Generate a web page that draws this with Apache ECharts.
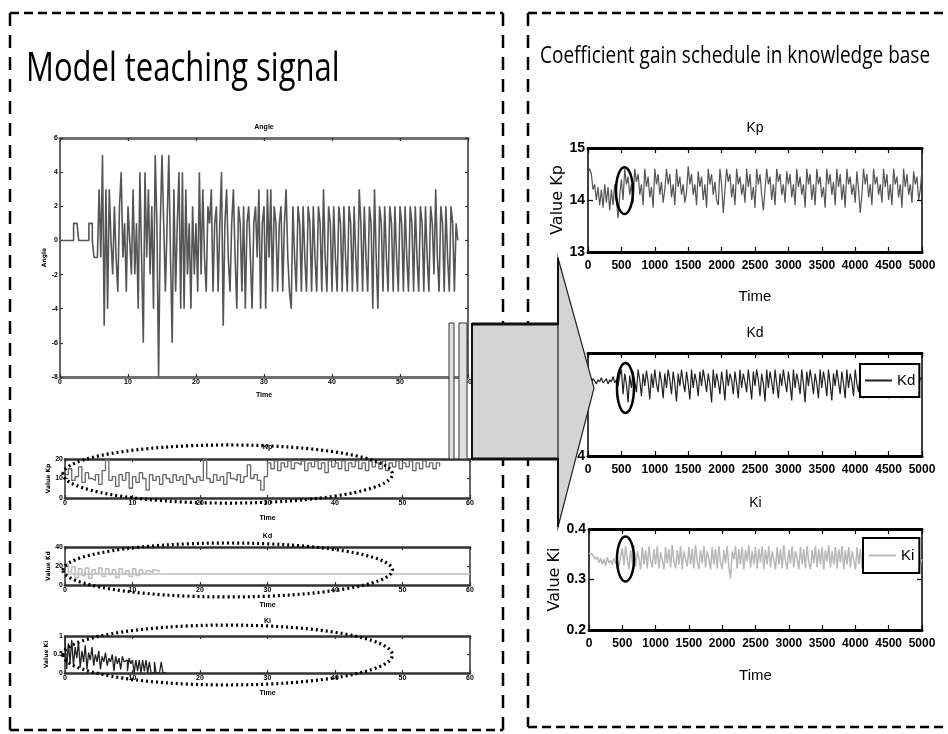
<!DOCTYPE html>
<html><head><meta charset="utf-8">
<script src="https://cdn.jsdelivr.net/npm/echarts@6/dist/echarts.min.js"></script>
<style>html,body{margin:0;padding:0;background:#fff}#c{width:948px;height:734px}</style>
</head><body><div id="c"></div>
<script>
// ---------- DATA ----------
const ANGLE_DT = 0.25; // s per sample
const angleValues = [
 0,0,0,0,0,0,0,0, 1,1,1, 0,0,0,0,0,0, 1,1, 0, -1,-1,-1,
 3,-1,5,-5,3,-4,3,0,-2,2,-1,-3,2,4,-1,1,-3,2,0,-2,3,-2,1,-4,4,-1,-6,4,-1,3,-2,2,-4,5,1,-8,1,5,1,-3,1,5,-1,-6,3,-3,1,4,-4,4,-4,3,-2,1,-4,2,-2,
 1,-3,4,-2,3,-1,-3,2,1,3,-3,1,2,-3,1,4,-5,1,3,-1,-3,1,3,-1,-4,2,1,-3,2,-4,1,2,-1,-4,1,2,-1,3,-4,1,2,-4,3,-1,3,-3,2,1,-3,1,2,-3,1,3,-1,-3,-4,2,-1,-3,
 2,1,-3,2,-1,-3,2,1,-3,2,-1,-3,2,1,-3,3,-1,-3,2,1,-3,2,-1,-3,2,1,-3,2,-1,-3,2,1,-3,2,-1,-3,3,1,-3,2,-1,-3,2,1,-4,3,-1,-4,
 2,1,-3,2,-1,-3,2,1,-3,2,-1,-3,2,1,-3,2,-1,-3,2,1,-3,2,-1,-3,2,1,-3,2,-1,-3,2,1,-2,3,-1,-3,2,1,-3,2,-1,-3,2,1,-3,1,0
];
const TEACH_KP_DT = 0.5;
const teachKp = [
 12,15,9,11,16,8,13,10,9,12, 7,14,20,9,11,6,12,9,13,5,
 11,8,13,10,4,12,9,11,7,12, 10,8,12,9,11,7,12,10,8,11,
 9,20,10,8,12,9,11,7,13,10, 9,12,8,11,17,10,12,9,4,11,
 18,15,19,14,18,16,19,15,18,17, 19,14,18,16,19,15,18,13,19,16,
 18,15,19,14,18,16,19,15,18,14, 19,16,18,15,19,14,18,16,19,15,
 18,16,19,14,18,15,19,16,18,15, 18,16
];
const TEACH_KD_DT = 0.5;
const teachKd = [22,14,19,8,17,10,18,7,16,12,18,9,17,11,16,8,17,12,15,9,17,10,16,12,15,13,16,14,15];
const teachKdRef = 12;
const TEACH_KI_DT = 0.25;
const teachKi = [
 0.95,0.1,0.8,0.3,0.9,0.2,0.7,0.4,0.85,0.15,
 0.6,0.3,0.75,0.1,0.55,0.35,0.7,0.2,0.5,0.3,
 0.6,0.1,0.45,0.3,0.55,0.2,0.4,0.3,0.5,0.05,
 0.45,0.25,0.4,0.1,0.45,0.3,0.35,0.05,0.4,0.25,
 0.35,0.0,0.35,0.05,0.35,0.0,0.35,0.05,0.35,0.0,
 0.3,0.0,0.0,0.3,0.0,0.0,0.0,0.3,0.0,0.0, 0
];
const GAIN_DT = 25;
const gainKp = [
 14.55,14.6,14.5,14.2,14.3,14.0,14.25,13.9,14.2,13.85,14.3,13.95,14.25,13.8,14.2,13.9,14.3,14.0,13.65,14.1,
 14.4,14.0,14.6,14.3,14.45,14.1,14.3,13.95,14.6,14.35,14.5,14.1,14.3,13.9,14.6,14.25,14.45,14.05,14.25,13.85,
 14.6,14.3,14.5,14.1,14.35,13.95,14.2,14.6,14.3,14.5,14.05,14.3,13.9,14.6,14.25,14.45,14.1,14.3,13.95,14.15,
 14.65,14.3,14.5,14.1,14.3,13.9,14.55,14.25,14.45,14.0,14.3,13.85,14.6,14.3,14.5,14.1,14.35,14.0,13.9,14.6,
 14.3,13.75,14.2,14.6,14.35,14.5,14.05,14.3,13.9,14.6,14.3,14.45,14.1,14.3,13.95,14.6,14.25,14.5,14.0,14.25,
 13.85,14.6,14.3,14.5,14.1,13.8,14.2,14.6,14.3,14.45,14.0,14.3,13.9,14.6,14.35,14.5,14.1,14.3,13.95,14.55,
 14.3,14.5,14.05,14.3,13.9,14.6,14.25,14.45,14.1,14.3,13.85,14.6,14.3,14.5,14.0,14.3,13.9,14.6,14.3,14.45,
 14.05,14.25,13.85,14.6,14.3,14.5,14.1,14.35,13.9,14.6,14.25,14.5,14.0,14.3,13.85,14.6,14.3,14.45,14.1,14.3,
 13.95,14.55,14.2,13.75,14.1,14.6,14.3,14.5,14.05,14.3,13.9,14.6,14.3,14.45,14.1,14.3,13.95,14.6,14.25,14.5,
 14.0,14.3,13.9,14.6,14.3,14.45,14.05,14.3,13.85,14.6,14.25,14.5,14.1,14.3,13.95,14.55,14.3,14.45,14.0,14.2,
 14.6
];
const gainKd = [
 4.72,4.74,4.71,4.75,4.73,4.70,4.74,4.72,4.76,4.71,4.73,4.75,4.70,4.74,4.72,4.77,4.71,4.74,4.68,4.78,
 4.84,4.60,4.80,4.70,4.52,4.78,4.66,4.82,4.72,4.62,4.84,4.74,4.58,4.80,4.68,4.83,4.72,4.55,4.80,4.66,
 4.84,4.70,4.62,4.82,4.72,4.56,4.80,4.66,4.84,4.74,4.60,4.82,4.70,4.53,4.80,4.68,4.84,4.72,4.62,4.82,
 4.70,4.55,4.84,4.66,4.80,4.72,4.58,4.82,4.68,4.84,4.74,4.62,4.80,4.70,4.52,4.84,4.66,4.80,4.72,4.60,
 4.82,4.70,4.54,4.84,4.68,4.80,4.74,4.60,4.82,4.70,4.56,4.84,4.66,4.80,4.72,4.62,4.84,4.70,4.55,4.82,
 4.68,4.84,4.74,4.58,4.80,4.70,4.53,4.84,4.66,4.82,4.72,4.60,4.84,4.70,4.56,4.80,4.68,4.84,4.72,4.62,
 4.82,4.70,4.54,4.84,4.66,4.80,4.72,4.60,4.84,4.70,4.52,4.82,4.68,4.84,4.74,4.60,4.80,4.70,4.56,4.84,
 4.66,4.82,4.72,4.58,4.84,4.70,4.54,4.80,4.68,4.84,4.72,4.60,4.82,4.70,4.56,4.84,4.66,4.80,4.72,4.58,
 4.84,4.70,4.62,4.82,4.68,4.56,4.84,4.72,4.80,4.64,4.84,4.70,4.58,4.82,4.68,4.84,4.72,4.60,4.82,4.70,
 4.56,4.84,4.66,4.80,4.72,4.60,4.84,4.70,4.56,4.82,4.68,4.84,4.72,4.62,4.82,4.70,4.58,4.84,4.68,4.76,
 4.74
];
const gainKi = [
 0.352,0.355,0.350,0.347,0.340,0.345,0.333,0.342,0.330,0.340,0.327,0.344,0.333,0.338,0.329,0.342,0.331,0.338,0.325,0.346,
 0.362,0.328,0.366,0.340,0.320,0.358,0.334,0.368,0.325,0.356,0.342,0.320,0.364,0.330,0.358,0.322,0.366,0.338,0.324,0.360,
 0.330,0.366,0.322,0.354,0.340,0.320,0.364,0.332,0.360,0.324,0.368,0.336,0.322,0.358,0.330,0.366,0.320,0.356,0.340,0.326,
 0.364,0.330,0.360,0.322,0.368,0.336,0.320,0.358,0.332,0.366,0.324,0.356,0.342,0.320,0.364,0.330,0.360,0.322,0.366,0.334,
 0.320,0.358,0.332,0.366,0.324,0.302,0.356,0.340,0.366,0.322,0.360,0.330,0.364,0.320,0.358,0.336,0.368,0.324,0.356,0.330,
 0.364,0.322,0.360,0.334,0.366,0.320,0.358,0.330,0.366,0.324,0.356,0.340,0.320,0.364,0.330,0.360,0.322,0.368,0.336,0.320,
 0.358,0.332,0.366,0.324,0.356,0.342,0.320,0.364,0.330,0.360,0.322,0.366,0.334,0.320,0.358,0.332,0.366,0.324,0.360,0.330,
 0.364,0.320,0.358,0.336,0.368,0.324,0.356,0.330,0.364,0.322,0.360,0.334,0.366,0.320,0.358,0.330,0.364,0.324,0.356,0.340,
 0.320,0.364,0.330,0.360,0.322,0.366,0.334,0.320,0.358,0.332,0.366,0.324,0.356,0.342,0.320,0.364,0.330,0.360,0.322,0.366,
 0.334,0.320,0.358,0.332,0.366,0.324,0.356,0.340,0.320,0.364,0.330,0.360,0.322,0.366,0.334,0.320,0.358,0.332,0.366,0.330,
 0.340
];

// ---------- LAYOUT ----------
const NARROW = "'Liberation Sans Narrow','Liberation Sans',sans-serif";
const SANS = "'Liberation Sans',sans-serif";
const chart = echarts.init(document.getElementById('c'));
const grids = [
 {left:60, top:138, width:408, height:239},
 {left:65, top:459, width:405, height:39},
 {left:65, top:547, width:405, height:38},
 {left:65, top:636, width:405, height:37},
 {left:588, top:148, width:334, height:104},
 {left:588, top:353, width:334, height:103},
 {left:589, top:529, width:333, height:101}
];
const small = {font:7, weight:'bold', family:SANS, tick:3, margin:2};
const big = {font:12, weight:'bold', family:SANS, tick:5, margin:8};
const cfgs = [
 {x:[0,60,10], y:[-8,6,2], s:small, hx:'#707070', hw:3, vx:'#333', vw:1.5, xName:'Time', xGap:15, yName:'Angle', yGap:13},
 {x:[0,60,10], y:[0,20,10], s:small, hx:'#333', hw:2.5, vx:'#333', vw:1.5, xName:'Time', xGap:17, yName:'Value Kp', yGap:12},
 {x:[0,60,10], y:[0,40,20], s:small, hx:'#333', hw:2.5, vx:'#333', vw:1.5, xName:'Time', xGap:17, yName:'Value Kd', yGap:12},
 {x:[0,60,10], y:[0,1,0.5], s:small, hx:'#333', hw:2.5, vx:'#333', vw:1.5, xName:'Time', xGap:17, yName:'Value Ki', yGap:14},
 {x:[0,5000,500], y:[13,15,1], s:big, hx:'#000', hw:3, vx:'#000', vw:1.5, xName:'Time', xGap:37, yName:'Value Kp', yGap:12},
 {x:[0,5000,500], y:[4,5,1], s:big, hx:'#000', hw:3, vx:'#000', vw:1.5, xName:'', xGap:37, yName:'Value Kd', yGap:12, hideMax:true},
 {x:[0,5000,500], y:[0.2,0.4,0.1], s:big, hx:'#000', hw:3, vx:'#000', vw:1.5, xName:'Time', xGap:38, yName:'Value Ki', yGap:12}
];
const fmt = v => String(+(+v).toFixed(6));
const xAxes = [], yAxes = [];
cfgs.forEach((c, g) => {
  const s = c.s;
  const isBig = s === big;
  const nameStyleX = {fontFamily:SANS, fontSize: isBig ? 15 : 7, fontWeight: isBig ? 'normal' : 'bold', color:'#000'};
  const nameStyleY = {fontFamily:"'DejaVu Sans',sans-serif", fontSize: isBig ? 16 : 6, fontWeight: isBig ? 'normal' : 'bold', color:'#000'};
  ['bottom','top'].forEach((pos, k) => {
    xAxes.push({type:'value', gridIndex:g, position:pos, min:c.x[0], max:c.x[1], interval:c.x[2],
      axisLine:{show:true, onZero:false, lineStyle:{color:c.hx, width:c.hw}},
      axisTick:{show:true, inside:true, length:s.tick, lineStyle:{color:c.vx, width:1.2}},
      axisLabel:{show:k===0, formatter:fmt, fontSize:s.font, fontWeight:s.weight, fontFamily:s.family, color:'#000', margin:s.margin, showMinLabel:true, showMaxLabel:true, hideOverlap:false},
      splitLine:{show:false},
      name: k===0 ? c.xName : '', nameLocation:'middle', nameGap:c.xGap, nameTextStyle:nameStyleX});
  });
  ['left','right'].forEach((pos, k) => {
    yAxes.push({type:'value', gridIndex:g, position:pos, min:c.y[0], max:c.y[1], interval:c.y[2],
      axisLine:{show:true, onZero:false, lineStyle:{color:c.vx, width:c.vw}},
      axisTick:{show:true, inside:true, length:s.tick, lineStyle:{color:c.vx, width:1.2}},
      axisLabel:{show:k===0, formatter:fmt, fontSize: isBig ? 14 : s.font, fontWeight:s.weight, fontFamily:s.family, color:'#000', margin:isBig?3:2, showMinLabel:true, showMaxLabel: c.hideMax ? false : true},
      splitLine:{show:false},
      name: k===0 ? c.yName : '', nameLocation:'middle', nameGap:c.yGap, nameRotate:90, nameTextStyle:nameStyleY});
  });
});

function seriesOf(name, g, values, dt, color, width, step, extra) {
  return Object.assign({
    name, type:'line', xAxisIndex:2*g, yAxisIndex:2*g,
    data: values.map((v, i) => [i * dt, v]),
    showSymbol:false, symbol:'none', step: step || false,
    lineStyle:{color, width}, itemStyle:{color}, animation:false, clip:true
  }, extra || {});
}

const series = [
  seriesOf('Angle', 0, angleValues, ANGLE_DT, '#555', 1.6, 'end'),
  seriesOf('Kp teaching', 1, teachKp, TEACH_KP_DT, '#666', 1.3, 'end'),
  seriesOf('Kd teaching', 2, teachKd, TEACH_KD_DT, '#bdbdbd', 1.5, 'end', {
    markLine:{silent:true, symbol:'none', label:{show:false}, animation:false,
      lineStyle:{color:'#bdbdbd', type:'solid', width:1.5}, data:[{yAxis:teachKdRef}]}}),
  seriesOf('Ki teaching', 3, teachKi, TEACH_KI_DT, '#222', 1.3, 'end'),
  seriesOf('Kp', 4, gainKp, GAIN_DT, '#555', 1.2),
  seriesOf('Kd', 5, gainKd, GAIN_DT, '#222', 1.2),
  seriesOf('Ki', 6, gainKi, GAIN_DT, '#b8b8b8', 1.5)
];

const legendBase = {orient:'horizontal', icon:'rect', itemWidth:27, itemHeight:2, itemGap:0,
  borderColor:'#000', borderWidth:2, backgroundColor:'#fff', borderRadius:0, selectedMode:false,
  textStyle:{fontFamily:SANS, fontSize:15, color:'#000'}};

chart.setOption({
  animation:false,
  backgroundColor:'#fff',
  grid: grids.map(g => Object.assign({containLabel:false}, g)),
  xAxis: xAxes, yAxis: yAxes, series,
  legend:[
    Object.assign({}, legendBase, {data:['Kd'], left:860, top:364, padding:[9,4,9,5]}),
    Object.assign({}, legendBase, {data:['Ki'], left:863, top:538, padding:[10,5,10,6]})
  ]
});

// ---------- ANNOTATIONS ----------
const gr = [];
function dashLine(x1, y1, x2, y2, dash) {
  gr.push({type:'line', shape:{x1, y1, x2, y2}, style:{stroke:'#000', lineWidth:2.5, lineDash:dash}, z:90, silent:true});
}
dashLine(10, 13, 503, 13, [9,5]);
dashLine(10, 13, 10, 730, [13,9]);
dashLine(10, 730, 503, 730, [9,5]);
dashLine(503, 13, 503, 730, [13,9]);
dashLine(528, 13, 948, 13, [9,5]);
dashLine(528, 13, 528, 727, [13,9]);
dashLine(528, 727, 948, 727, [9,5]);

function txt(text, x, y, font, align, extra) {
  gr.push(Object.assign({type:'text', x, y, z:60, silent:true,
    style:{text, font, fill:'#000', align: align || 'center', verticalAlign:'middle'}}, extra || {}));
}
txt('Model teaching signal', 26, 70, "31px 'Open Sans'", 'left', {scaleY:1.3});
txt('Coefficient gain schedule in knowledge base', 540, 57, "19px 'Open Sans'", 'left', {scaleY:1.2});

const titles = [['Angle',0,-11,"bold 7px "+SANS],['Kp',1,-12,"bold 7px "+SANS],['Kd',2,-11,"bold 7px "+SANS],['Ki',3,-15,"bold 7px "+SANS],
  ['Kp',4,-20,"14px "+SANS],['Kd',5,-20,"14px "+SANS],['Ki',6,-26,"14px "+SANS]];
titles.forEach(([t, g, dy, f]) => {
  const G = grids[g];
  txt(t, G.left + G.width/2, G.top + dy, f);
});

function ellipseAt(g, cx, cy, rx, ry, style) {
  const f = {xAxisIndex:2*g, yAxisIndex:2*g};
  const c = chart.convertToPixel(f, [cx, cy]);
  const e = chart.convertToPixel(f, [cx + rx, cy + ry]);
  gr.push({type:'ellipse', shape:{cx:c[0], cy:c[1], rx:Math.abs(e[0]-c[0]), ry:Math.abs(e[1]-c[1])}, style, z:50, silent:true});
}
const dotted = {fill:null, stroke:'#000', lineWidth:3.2, lineDash:[2,3]};
ellipseAt(1, 24.1, 12.3, 24.4, 14.9, dotted);
ellipseAt(2, 24.1, 15.8, 24.4, 28.4, dotted);
ellipseAt(3, 24.1, 0.486, 24.4, 0.81, dotted);
const solid = {fill:null, stroke:'#000', lineWidth:2.5};
ellipseAt(4, 546, 14.18, 127, 0.45, solid);
ellipseAt(5, 561, 4.66, 127, 0.243, solid);
ellipseAt(6, 548, 0.3406, 128, 0.0446, solid);

const ARROW = '#d4d4d4';
gr.push({type:'rect', shape:{x:449, y:323, width:5, height:136}, style:{fill:'#e0e0e0', stroke:'#333', lineWidth:1}, z:100, silent:true});
gr.push({type:'rect', shape:{x:459, y:323, width:8, height:136}, style:{fill:'#e0e0e0', stroke:'#333', lineWidth:1}, z:100, silent:true});
gr.push({type:'rect', shape:{x:472, y:324, width:86, height:135}, style:{fill:ARROW}, z:100, silent:true});
gr.push({type:'polygon', shape:{points:[[558,258],[594,388],[558,527]]}, style:{fill:ARROW, stroke:'#222', lineWidth:1.2}, z:100, silent:true});
[[472,324,558,324,3],[472,459,558,459,3],[472,323,472,460,2],[558,258,558,325,2],[558,458,558,527,2]].forEach(([x1,y1,x2,y2,w]) => {
  gr.push({type:'line', shape:{x1,y1,x2,y2}, style:{stroke:'#111', lineWidth:w}, z:101, silent:true});
});

chart.setOption({graphic: gr});
</script></body></html>
